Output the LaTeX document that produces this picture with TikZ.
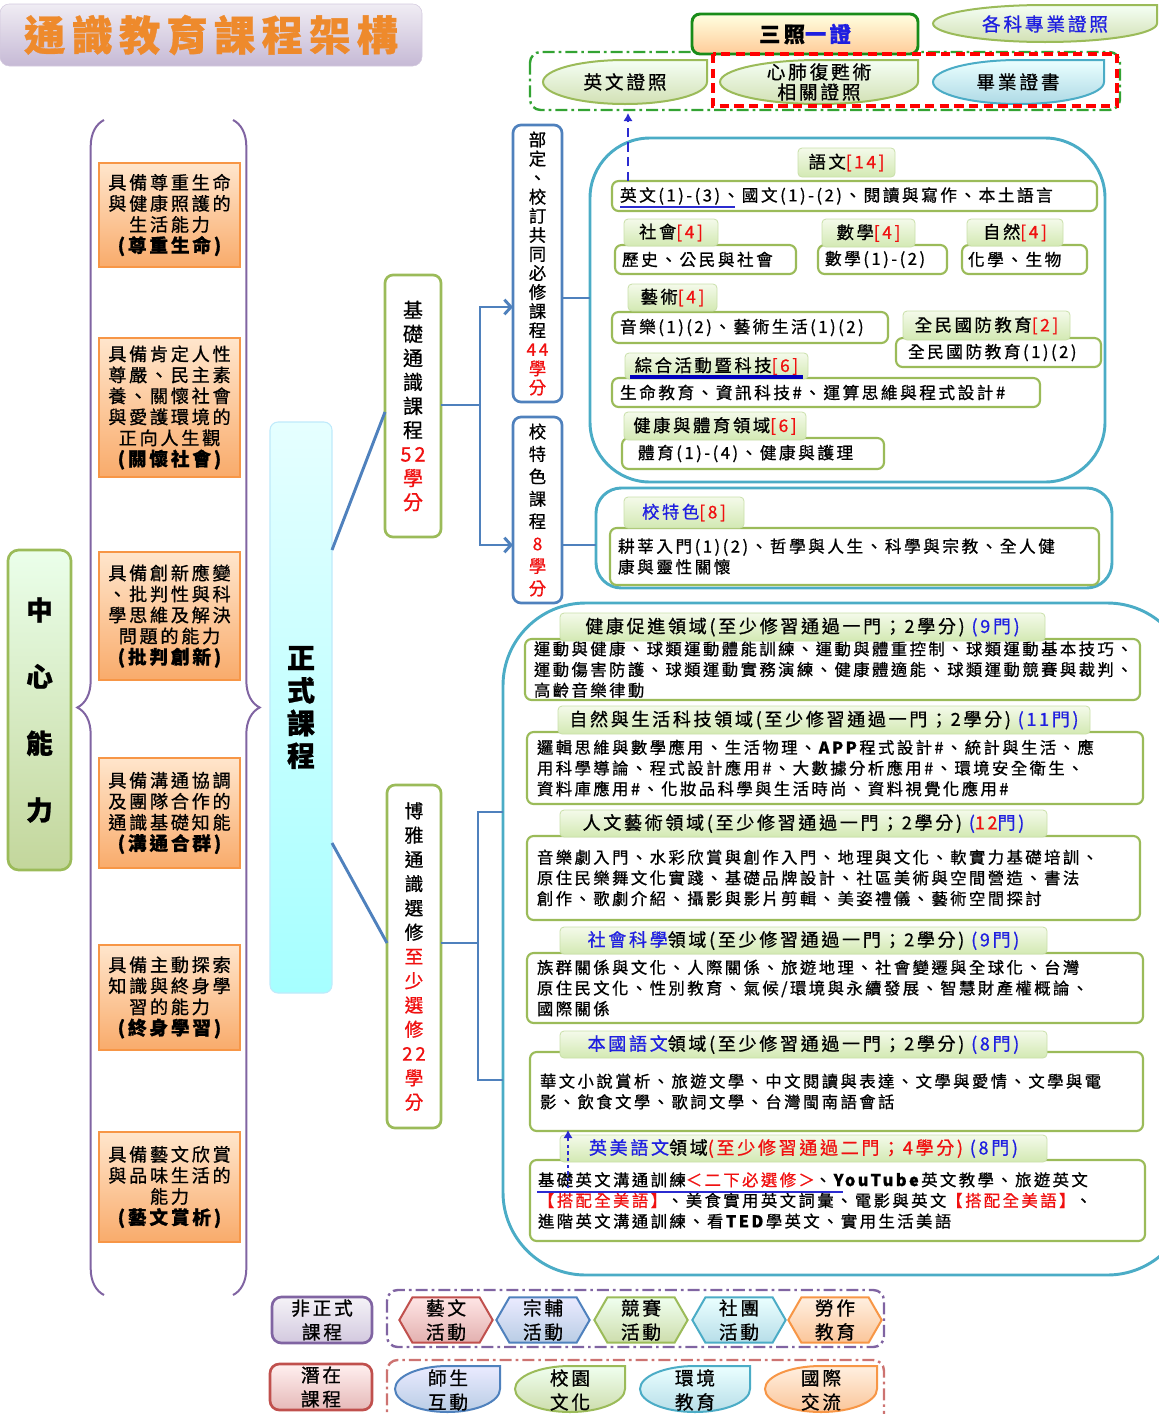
\documentclass[tikz,border=0pt]{standalone}
\usepackage{fontspec}
\setmainfont{Noto Sans CJK TC}[LetterSpace=15,FakeBold=0.8]
\usetikzlibrary{shapes.symbols,arrows.meta,decorations.pathreplacing}
\definecolor{pblue}{HTML}{4F81BD}
\definecolor{pgreen}{HTML}{9BBB59}
\definecolor{pteal}{HTML}{4BACC6}
\definecolor{porange}{HTML}{F79646}
\definecolor{ppurple}{HTML}{8064A2}
\definecolor{pred}{HTML}{C0504D}
\definecolor{tblue}{HTML}{1F1FE0}
\definecolor{tred}{HTML}{F01010}
\definecolor{titleor}{HTML}{EE8A2C}
\definecolor{tabtop}{HTML}{F4FAEA}
\definecolor{tabbot}{HTML}{D3E9B3}
\definecolor{tabedge}{HTML}{C9DFA9}
\definecolor{ulblue}{HTML}{2B2BD0}
\newcommand{\setfs}[2]{\fontsize{#1}{#2}\selectfont}
\newcommand{\abl}[1]{{\bfseries\setfs{14}{18}#1}}
% box node spanning (x1,y1)-(x2,y2) in picture pixels
\newcommand{\bx}[6]{%
  \pgfmathsetmacro\bxcx{(#3+#5)/2}%
  \pgfmathsetmacro\bxcy{(#4+#6)/2}%
  \pgfmathsetmacro\bxw{0.75*(#5-#3)}%
  \pgfmathsetmacro\bxh{0.75*(#6-#4)}%
  \node[#1,minimum width=\bxw pt,minimum height=\bxh pt] (#2) at (\bxcx,\bxcy)}
% same, with left-aligned text and a padding (#7, pixels)
\newcommand{\rbx}[7]{%
  \pgfmathsetmacro\bxcx{(#3+#5)/2}%
  \pgfmathsetmacro\bxcy{(#4+#6)/2}%
  \pgfmathsetmacro\bxw{0.75*(#5-#3)}%
  \pgfmathsetmacro\bxh{0.75*(#6-#4)}%
  \pgfmathsetmacro\bxtw{0.75*(#5-#3-2*#7)}%
  \node[#1,minimum width=\bxw pt,minimum height=\bxh pt,text width=\bxtw pt,align=left] (#2) at (\bxcx,\bxcy)}
% teardrop outline spanning (x1,y1)-(x2,y2)
\newcommand{\tear}[5]{%
  \pgfmathsetmacro\tdcx{(#2+#4)/2}%
  \pgfmathsetmacro\tda{0.75*(#4-#2)/2}%
  \pgfmathsetmacro\tdb{0.75*(#5-#3)/2}%
  \draw[#1] (#4,#3) -- (\tdcx,#3) arc[start angle=90,end angle=270,x radius=\tda pt,y radius=\tdb pt] arc[start angle=270,end angle=360,x radius=\tda pt,y radius=\tdb pt] -- cycle;}
\begin{document}
\begin{tikzpicture}[x=0.75pt,y=-0.75pt,
  box/.style={inner sep=0pt,outer sep=0pt},
  tabbox/.style={box,draw=tabedge,line width=0.6pt,top color=tabtop,bottom color=tabbot,rounded corners=3pt,font=\setfs{13}{15}},
  bigtab/.style={tabbox,font=\setfs{13.5}{16}},
  rowbox/.style={box,draw=pgreen,line width=1.6pt,fill=white,rounded corners=5pt,font=\setfs{12.5}{15.5}},
  erow/.style={rowbox,font=\setfs{12.25}{15.5}},
  container/.style={box,draw=pteal,line width=2.2pt},
  ability/.style={box,draw=porange,line width=1.5pt,top color=orange!20!white,bottom color=porange!80!white,align=center,font=\setfs{13.6}{15.75}},
  vgreen/.style={box,draw=pgreen,line width=2pt,fill=white,rounded corners=6pt,align=center},
  vblue/.style={box,draw=pblue,line width=2pt,fill=white,rounded corners=6pt,align=center},
  conn/.style={draw=pblue,line width=2.2pt},
  barb/.style={-{Straight Barb[length=5pt,width=11pt]}},
  pbrace/.style={draw=ppurple,line width=1.5pt,decorate,decoration={brace,amplitude=20pt}},
  tdgreen/.style={draw=pgreen,line width=1.5pt,top color=green!4!white,bottom color=pgreen!45!white},
  tdblue/.style={draw=pteal,line width=1.5pt,top color=cyan!8!white,bottom color=pteal!45!white},
  certtext/.style={font=\setfs{14}{15},align=center},
  hex/.style={shape=signal,signal to=west and east,signal pointer angle=120,minimum width=70pt,minimum height=34pt,inner sep=0pt,line width=1.5pt,align=center,font=\setfs{14}{18}},
  bluedash/.style={draw=ulblue,line width=2.2pt,dash pattern=on 7pt off 4pt,-{Latex[length=6pt,width=7pt]}},
  bluedot/.style={draw=ulblue,line width=2.2pt,dash pattern=on 2.5pt off 2.5pt,-{Latex[length=6pt,width=7pt]}},
  uline/.style={draw=ulblue,line width=2pt},
  dashdot/.style={line width=1.8pt,rounded corners=8pt,dash pattern=on 9pt off 3pt on 2pt off 3pt}
]
\useasboundingbox (0,0) rectangle (1159,1414);
\clip (0,0) rectangle (1159,1414);

% ---------- title ----------
\bx{box,rounded corners=7pt,draw=ppurple!35,top color=ppurple!12!white,bottom color=ppurple!45!white,text=titleor,font=\setfs{31}{34}\bfseries}{title}{0}{4}{422}{66}{通識教育課程架構};

% ---------- certificates ----------
\draw[dashdot,draw=green!55!black!80] (530,52) rectangle (1120,110);
\bx{box,rounded corners=6pt,draw=green!50!black!90,line width=2.2pt,top color=yellow!12!white,bottom color=orange!40!white,font=\setfs{16}{18}\bfseries}{sz}{692}{14}{918}{54}{三照\textcolor{tblue}{一證}};
\tear{tdgreen}{933}{5}{1157}{42}
\node[certtext,text=tblue] (gk) at (1045,24) {各科專業證照};
\tear{tdgreen}{543}{60}{707}{104}
\node[certtext] (en) at (625,82) {英文證照};
\tear{tdgreen}{720}{60}{918}{104}
\node[certtext] (cpr) at (819,82) {心肺復甦術\\相關證照};
\tear{tdblue}{933}{60}{1104}{104}
\node[certtext] (grad) at (1018,82) {畢業證書};
\draw[draw=red,line width=3pt,dash pattern=on 7pt off 4pt] (713,54) rectangle (1117,106);

% ---------- core abilities ----------
\bx{box,rounded corners=8pt,draw=pgreen,line width=2pt,top color=green!8!white,bottom color=pgreen!60!white,align=center,font=\setfs{20}{50}\bfseries}{zx}{8}{550}{71}{870}{中\\心\\能\\力};
\draw[pbrace] (104,1295) -- (104,120);
\draw[pbrace] (233,120) -- (233,1295);
\bx{ability}{a1}{99}{163}{240}{267}{具備尊重生命\\與健康照護的\\生活能力\\\abl{(尊重生命)}};
\bx{ability}{a2}{99}{338}{240}{477}{具備肯定人性\\尊嚴、民主素\\養、關懷社會\\與愛護環境的\\正向人生觀\\\abl{(關懷社會)}};
\bx{ability}{a3}{99}{552}{240}{680}{具備創新應變\\、批判性與科\\學思維及解決\\問題的能力\\\abl{(批判創新)}};
\bx{ability}{a4}{99}{758}{240}{868}{具備溝通協調\\及團隊合作的\\通識基礎知能\\\abl{(溝通合群)}};
\bx{ability}{a5}{99}{945}{240}{1050}{具備主動探索\\知識與終身學\\習的能力\\\abl{(終身學習)}};
\bx{ability}{a6}{99}{1132}{240}{1242}{具備藝文欣賞\\與品味生活的\\能力\\\abl{(藝文賞析)}};

% ---------- formal curriculum ----------
\bx{box,rounded corners=6pt,draw=cyan!25,line width=0.8pt,top color=cyan!10!white,bottom color=cyan!35!white,align=center,font=\setfs{21}{24.5}\bfseries}{zs}{270}{422}{332}{993}{正\\式\\課\\程};
\bx{vgreen,font=\setfs{15}{18}}{jc}{385}{275}{441}{537}{基\\礎\\通\\識\\課\\程\\\textcolor{tred}{52}\\\textcolor{tred}{學}\\\textcolor{tred}{分}};
\bx{vgreen,font=\setfs{14}{18.2}}{bya}{387}{785}{441}{1128}{博\\雅\\通\\識\\選\\修\\\textcolor{tred}{至}\\\textcolor{tred}{少}\\\textcolor{tred}{選}\\\textcolor{tred}{修}\\\textcolor{tred}{22}\\\textcolor{tred}{學}\\\textcolor{tred}{分}};
\bx{vblue,font=\setfs{13}{14.3}}{bd}{513}{125}{562}{402}{部\\定\\、\\校\\訂\\共\\同\\必\\修\\課\\程\\\textcolor{tred}{44}\\\textcolor{tred}{學}\\\textcolor{tred}{分}};
\bx{vblue,font=\setfs{13}{16.8}}{tsk}{513}{417}{562}{603}{校\\特\\色\\課\\程\\\textcolor{tred}{8}\\\textcolor{tred}{學}\\\textcolor{tred}{分}};

% ---------- containers ----------
\bx{container,rounded corners=45pt}{c1}{590}{138}{1105}{482}{};
\bx{container,rounded corners=19pt}{c2}{596}{488}{1112}{588}{};
\bx{container,rounded corners=62pt}{c3}{503}{603}{1190}{1275}{};

% ---------- connectors ----------
\coordinate (jb) at (480,405);
\coordinate (bb) at (478,943);
\draw[conn] (zs.east|-0,550) -- (jc.west|-0,412);
\draw[conn] (zs.east|-0,843) -- (bya.west|-0,943);
\draw[conn] (jc.east|-0,405) -- (jb);
\draw[conn,barb] (jb) |- (bd.west|-0,307);
\draw[conn,barb] (jb) |- (tsk.west|-0,545);
\draw[conn] (bd.east|-0,298) -- (c1.west|-0,298);
\draw[conn] (tsk.east|-0,545) -- (c2.west|-0,545);
\draw[conn] (bya.east|-0,943) -- (bb);
\draw[conn] (c3.west|-0,812) -| (bb) |- (c3.west|-0,1080);

% ---------- required courses ----------
\rbx{rowbox}{ywr}{612}{181}{1097}{211}{8}{英文(1)-(3)、國文(1)-(2)、閱讀與寫作、本土語言};
\bx{tabbox}{ywt}{798}{148}{895}{177}{語文\textcolor{tred}{[14]}};
\rbx{rowbox}{shr}{615}{245}{796}{274}{7}{歷史、公民與社會};
\bx{tabbox}{sht}{624}{219}{718}{246}{社會\textcolor{tred}{[4]}};
\rbx{rowbox}{sxr}{818}{245}{947}{274}{7}{數學(1)-(2)};
\bx{tabbox}{sxt}{822}{219}{915}{247}{數學\textcolor{tred}{[4]}};
\rbx{rowbox}{zrr}{962}{245}{1087}{274}{6}{化學、生物};
\bx{tabbox}{zrt}{967}{219}{1063}{246}{自然\textcolor{tred}{[4]}};
\rbx{rowbox}{ysr}{612}{312}{888}{343}{8}{音樂(1)(2)、藝術生活(1)(2)};
\bx{tabbox}{yst}{628}{284}{717}{311}{藝術\textcolor{tred}{[4]}};
\rbx{rowbox}{gfr}{896}{338}{1101}{367}{12}{全民國防教育(1)(2)};
\bx{tabbox}{gft}{903}{311}{1070}{340}{全民國防教育\textcolor{tred}{[2]}};
\rbx{rowbox}{zhr}{612}{378}{1040}{407}{8}{生命教育、資訊科技\#、運算思維與程式設計\#};
\bx{tabbox}{zht}{625}{353}{808}{379}{綜合活動暨科技\textcolor{tred}{[6]}};
\draw[draw=blue!75!black,line width=2.5pt] ([xshift=4pt,yshift=1.5pt]zht.south west) -- ([xshift=-4pt,yshift=1.5pt]zht.south east);
\rbx{rowbox}{jkr}{622}{438}{884}{469}{16}{體育(1)-(4)、健康與護理};
\bx{tabbox}{jkt}{624}{412}{806}{440}{健康與體育領域\textcolor{tred}{[6]}};
\draw[uline] (620,207) -- (735,207);
\coordinate (ena) at (628,113);
\draw[bluedash] (ywr.north-|ena) -- (ena);

% ---------- school feature ----------
\rbx{rowbox}{tsr}{610}{528}{1099}{585}{8}{耕莘入門(1)(2)、哲學與人生、科學與宗教、全人健\\康與靈性關懷};
\bx{tabbox}{tst}{624}{497}{744}{528}{\textcolor{tblue}{校特色}\textcolor{tred}{[8]}};

% ---------- liberal electives ----------
\rbx{erow}{e1r}{525}{639}{1140}{700}{9}{運動與健康、球類運動體能訓練、運動與體重控制、球類運動基本技巧、\\運動傷害防護、球類運動實務演練、健康體適能、球類運動競賽與裁判、\\高齡音樂律動};
\bx{bigtab}{e1t}{560}{613}{1045}{641}{健康促進領域(至少修習通過一門；2學分) \textcolor{tblue}{(9門)}};
\rbx{erow}{e2r}{527}{732}{1143}{804}{10}{邏輯思維與數學應用、生活物理、\textbf{APP}程式設計\#、統計與生活、應\\用科學導論、程式設計應用\#、大數據分析應用\#、環境安全衛生、\\資料庫應用\#、化妝品科學與生活時尚、資料視覺化應用\#};
\bx{bigtab}{e2t}{558}{706}{1090}{734}{自然與生活科技領域(至少修習通過一門；2學分) \textcolor{tblue}{(11門)}};
\rbx{erow}{e3r}{527}{836}{1140}{920}{10}{音樂劇入門、水彩欣賞與創作入門、地理與文化、軟實力基礎培訓、\\原住民樂舞文化實踐、基礎品牌設計、社區美術與空間營造、書法\\創作、歌劇介紹、攝影與影片剪輯、美姿禮儀、藝術空間探討};
\bx{bigtab}{e3t}{560}{810}{1047}{837}{人文藝術領域(至少修習通過一門；2學分) \textcolor{tblue}{(}\textcolor{tred}{12}\textcolor{tblue}{門)}};
\rbx{erow}{e4r}{527}{953}{1143}{1023}{10}{族群關係與文化、人際關係、旅遊地理、社會變遷與全球化、台灣\\原住民文化、性別教育、氣候/環境與永續發展、智慧財產權概論、\\國際關係};
\bx{bigtab}{e4t}{560}{927}{1047}{954}{\textcolor{tblue}{社會科學}領域(至少修習通過一門；2學分) \textcolor{tblue}{(9門)}};
\rbx{erow}{e5r}{530}{1052}{1143}{1131}{10}{華文小說賞析、旅遊文學、中文閱讀與表達、文學與愛情、文學與電\\影、飲食文學、歌詞文學、台灣閩南語會話};
\bx{bigtab}{e5t}{560}{1031}{1047}{1058}{\textcolor{tblue}{本國語文}領域(至少修習通過一門；2學分) \textcolor{tblue}{(8門)}};
\rbx{erow}{e6r}{530}{1160}{1145}{1241}{8}{基礎英文溝通訓練\textcolor{tred}{＜二下必選修＞}、\textbf{YouTube}英文教學、旅遊英文\\\textcolor{tred}{【搭配全美語】}、美食實用英文詞彙、電影與英文\textcolor{tred}{【搭配全美語】}、\\進階英文溝通訓練、看\textbf{TED}學英文、實用生活美語};
\bx{bigtab}{e6t}{560}{1135}{1047}{1162}{\textcolor{tblue}{英美語文}領域\textcolor{tred}{(至少修習通過二門；4學分)} \textcolor{tblue}{(8門)}};
\draw[uline] (537,1192) -- (843,1192);
\coordinate (eb1) at (568,1188);
\coordinate (eb2) at (568,1130);
\draw[bluedot] (eb1) -- (eb2);

% ---------- informal / hidden curriculum ----------
\draw[dashdot,draw=ppurple] (387,1290) rectangle (884,1347);
\bx{box,rounded corners=7pt,draw=ppurple,line width=2pt,top color=ppurple!8!white,bottom color=ppurple!35!white,align=center,font=\setfs{14}{18}}{fzs}{272}{1297}{372}{1343}{非正式\\課程};
\node[hex,draw=pred,top color=red!10!white,bottom color=pred!45!white] (h1) at (446,1320) {藝文\\活動};
\node[hex,draw=pblue,top color=blue!8!white,bottom color=pblue!40!white] (h2) at (543,1320) {宗輔\\活動};
\node[hex,draw=pgreen,top color=green!6!white,bottom color=pgreen!50!white] (h3) at (641,1320) {競賽\\活動};
\node[hex,draw=pteal,top color=cyan!8!white,bottom color=pteal!40!white] (h4) at (739,1320) {社團\\活動};
\node[hex,draw=porange,top color=orange!12!white,bottom color=porange!55!white] (h5) at (835,1320) {勞作\\教育};

\draw[dashdot,draw=pred!80] (387,1360) rectangle (884,1425);
\bx{box,rounded corners=7pt,draw=pred,line width=2pt,top color=red!6!white,bottom color=pred!40!white,align=center,font=\setfs{14}{18}}{qz}{270}{1364}{372}{1410}{潛在\\課程};
\tear{draw=pblue,line width=1.5pt,top color=blue!8!white,bottom color=pblue!40!white}{395}{1366}{500}{1412}
\node[certtext,font=\setfs{14}{18}] (q1) at (448,1390) {師生\\互動};
\tear{draw=pgreen,line width=1.5pt,top color=green!6!white,bottom color=pgreen!50!white}{515}{1366}{625}{1412}
\node[certtext,font=\setfs{14}{18}] (q2) at (570,1390) {校園\\文化};
\tear{draw=pteal,line width=1.5pt,top color=cyan!8!white,bottom color=pteal!40!white}{640}{1366}{750}{1412}
\node[certtext,font=\setfs{14}{18}] (q3) at (695,1390) {環境\\教育};
\tear{draw=porange,line width=1.5pt,top color=orange!12!white,bottom color=porange!55!white}{765}{1366}{877}{1412}
\node[certtext,font=\setfs{14}{18}] (q4) at (821,1390) {國際\\交流};
\end{tikzpicture}
\end{document}
